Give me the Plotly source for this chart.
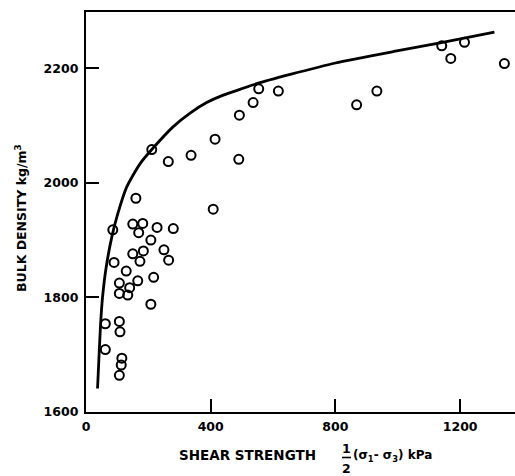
import plotly.graph_objects as go

# Measured samples: shear strength 1/2(s1 - s3) in kPa vs bulk density in kg/m3
shear_kpa = [62, 62, 90, 86, 107, 109, 115, 113, 107, 107, 107, 134, 140, 129, 166,
             208, 217, 150, 184, 173, 250, 265, 208, 150, 182, 169, 228, 280, 160,
             408, 211, 264, 337, 414, 490, 492, 536, 554, 617, 868, 933, 1141,
             1170, 1214, 1342]
density = [1754, 1709, 1861, 1918, 1758, 1740, 1694, 1682, 1664, 1825, 1807, 1804,
           1817, 1846, 1829, 1788, 1835, 1876, 1881, 1863, 1883, 1865, 1900, 1928,
           1929, 1913, 1922, 1920, 1973, 1954, 2058, 2037, 2048, 2076, 2041, 2118,
           2140, 2164, 2160, 2136, 2160, 2239, 2217, 2245, 2208]

# Upper envelope curve, read along its length
env_kpa = [37, 42, 47, 53, 64, 83, 102, 130, 173, 211, 280, 335, 387, 440, 494, 548,
           655, 800, 997, 1136, 1310]
env_density = [1641, 1700, 1755, 1800, 1850, 1906, 1946, 1992, 2033, 2058, 2098,
               2122, 2140, 2153, 2163, 2173, 2189, 2209, 2230, 2244, 2263]

x_ticks = [0, 400, 800, 1200]
y_ticks = [1600, 1800, 2000, 2200]

W, H = 515, 476
L, R, T, B = 86, 0, 12, 64
PW, PH = W - L - R, H - T - B


def px(x):
    return (x - L) / PW


def py(y):
    return (H - B - y) / PH


FONT = dict(family="DejaVu Sans", size=12.5, color="black")
TITLE_FONT = dict(family="DejaVu Sans", size=13.5, color="black")
UNIT_FONT = dict(family="DejaVu Sans", size=12, color="black")


def bold(s):
    return "<b>" + s + "</b>"


fig = go.Figure()
fig.add_trace(go.Scatter(
    x=env_kpa, y=env_density, mode="lines",
    line=dict(color="black", width=2.8, shape="spline", smoothing=0.6),
    hoverinfo="skip", showlegend=False))
fig.add_trace(go.Scatter(
    x=shear_kpa, y=density, mode="markers",
    marker=dict(symbol="circle-open", size=9, color="black",
                line=dict(color="black", width=2)),
    showlegend=False))

fig.update_layout(
    width=W, height=H,
    margin=dict(l=L, r=R, t=T, b=B, pad=0),
    paper_bgcolor="white", plot_bgcolor="white",
    xaxis=dict(range=[0, 1376], tickvals=x_ticks, ticktext=[bold(str(v)) for v in x_ticks],
               ticks="inside", ticklen=13, tickwidth=1.8, tickcolor="black",
               showline=True, linecolor="black", linewidth=2.4, mirror=True,
               showgrid=False, zeroline=False, tickfont=FONT, ticklabelstandoff=2),
    yaxis=dict(range=[1600, 2298], tickvals=y_ticks, ticktext=[bold(str(v)) for v in y_ticks],
               ticks="inside", ticklen=13, tickwidth=2, tickcolor="black",
               showline=True, linecolor="black", linewidth=2.2,
               showgrid=False, zeroline=False, tickfont=FONT, ticklabelstandoff=3),
)

# Axis titles
fig.add_annotation(text=bold("BULK DENSITY kg/m<sup>3</sup>"), textangle=-90,
                   x=px(21), y=py(218), xref="paper", yref="paper",
                   xanchor="center", yanchor="middle", showarrow=False, font=FONT)
fig.add_annotation(text=bold("SHEAR STRENGTH"), x=px(177), y=py(455), xref="paper", yref="paper",
                   xanchor="left", yanchor="middle", showarrow=False, font=TITLE_FONT)
fig.add_annotation(text=bold("1"), x=px(346.5), y=py(448), xref="paper", yref="paper",
                   xanchor="center", yanchor="middle", showarrow=False, font=FONT)
fig.add_annotation(text=bold("2"), x=px(346.5), y=py(468), xref="paper", yref="paper",
                   xanchor="center", yanchor="middle", showarrow=False, font=FONT)
fig.add_shape(type="line", xref="paper", yref="paper",
              x0=px(342), x1=px(351), y0=py(457.5), y1=py(457.5),
              line=dict(color="black", width=1.6))
fig.add_annotation(text=bold("(σ<sub>1</sub>- σ<sub>3</sub>) kPa"), x=px(351), y=py(456),
                   xref="paper", yref="paper", xanchor="left", yanchor="middle",
                   showarrow=False, font=UNIT_FONT)

fig.write_html("out.html")
